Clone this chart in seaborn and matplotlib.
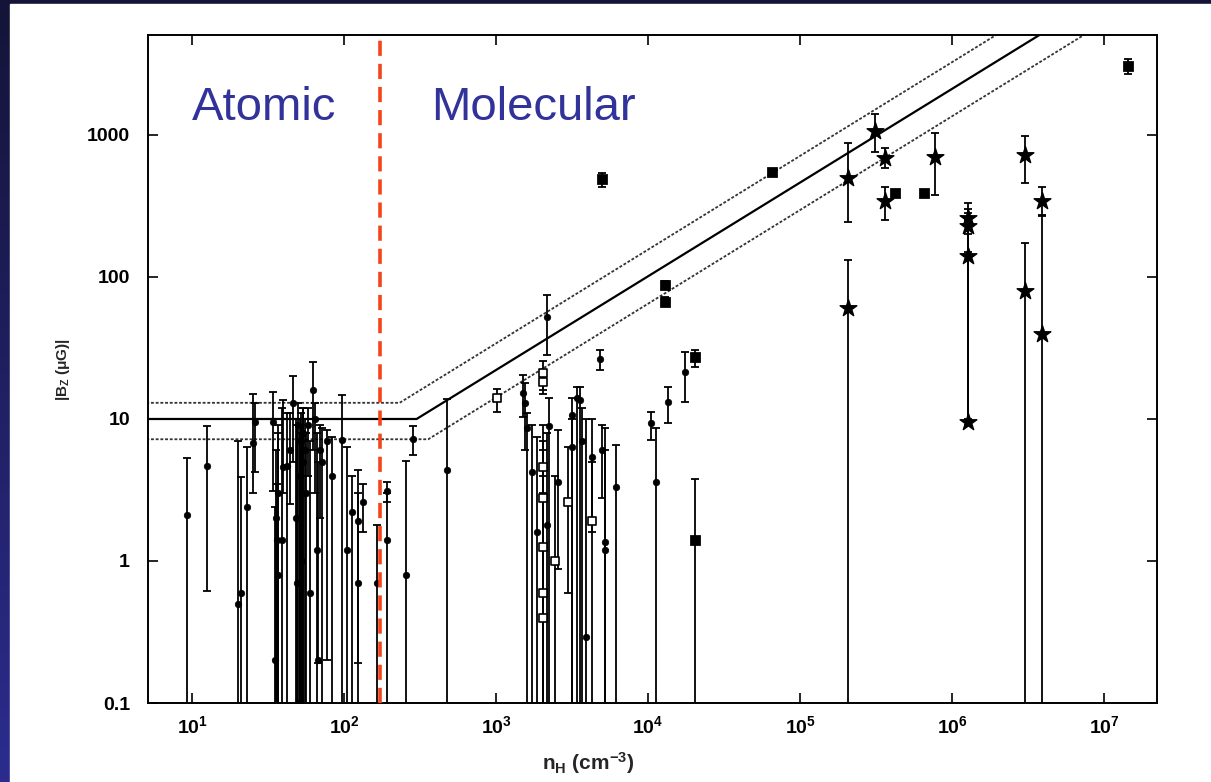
import numpy as np
import pandas as pd
import matplotlib
matplotlib.use("Agg")
import matplotlib.pyplot as plt
from matplotlib.patches import Rectangle
import seaborn as sns

# ---- data (n_H in cm^-3, |B_z| in microgauss) ----
# lo = 0.01 means the lower error bar runs off the bottom of the plot
atomic_n  = [9.3, 12.6, 20, 21, 23, 25.2, 25.9, 34, 35, 35.5, 36, 36.5, 37, 39, 39.7, 42, 44, 46, 48, 49,
             50, 51, 51.5, 52, 52.5, 53, 53.5, 54, 55, 56, 58, 59.7, 62.5, 64, 66, 67, 69, 72, 77, 83,
             97, 105, 113, 124, 124, 133, 165, 192, 192, 256, 284, 476]
atomic_B  = [2.1, 4.7, 0.5, 0.6, 2.4, 6.8, 9.5, 9.5, 0.2, 2.0, 1.4, 0.8, 3, 1.4, 4.6, 4.7, 6, 13, 2, 0.7,
             9, 0.1, 4, 7, 1, 3, 8, 5, 6, 3, 9, 0.6, 16, 10, 1.2, 0.2, 6, 5, 7, 4,
             7.1, 1.2, 2.2, 1.9, 0.7, 2.6, 0.7, 3.1, 1.4, 0.8, 7.2, 4.4]
atomic_lo = [0.01, 0.61, 0.01, 0.01, 0.01, 3.0, 4.2, 3.1, 0.01, 0.01, 0.01, 0.01, 0.01, 0.01, 3.0, 0.01, 2.5, 5, 0.01, 0.01,
             0.01, 0.01, 0.01, 0.01, 0.01, 0.01, 0.01, 0.01, 0.01, 0.01, 4, 0.01, 6, 3, 0.01, 0.19, 2, 0.01, 0.2, 0.01,
             0.01, 0.01, 0.01, 0.19, 0.01, 1.6, 0.01, 2.6, 0.01, 0.01, 5.6, 0.01]
atomic_hi = [5.3, 8.9, 7.0, 3.9, 6.3, 15, 13, 15.5, 2.4, 6, 3.5, 9, 8, 12, 13.5, 11, 11, 20, 10, 9,
             13, 8, 10, 11, 7, 9, 12, 12, 10, 8, 12, 7, 25, 13, 8, 5, 9, 8.6, 8.4, 7.5,
             14.7, 6.3, 4.0, 4.4, 3.0, 3.5, 1.8, 3.6, 3.0, 5.1, 8.9, 13.8]

oh_n  = [1507, 1550, 1600, 1726, 1862, 2166, 2166, 2234, 2559, 3162, 3162, 3413, 3573, 3700, 3910,
         4284, 4830, 4981, 5213, 5213, 6153, 10470, 11300, 13550, 17520]
oh_B  = [15.2, 13, 8.6, 4.2, 1.6, 1.8, 52, 8.9, 3.6, 10.7, 6.4, 14.1, 13.5, 7, 0.29,
         5.4, 26.4, 6.05, 1.36, 1.2, 3.3, 9.4, 3.6, 13.2, 21.4]
oh_lo = [10.3, 6, 0.01, 0.01, 0.01, 0.01, 28, 0.01, 0.88, 0.01, 0.01, 0.01, 0.01, 0.01, 0.01,
         1.6, 22, 2.8, 0.01, 0.01, 0.01, 7.1, 0.01, 9.4, 13.2]
oh_hi = [20.4, 18, 11, 9, 7.5, 8, 75, 14.1, 8.4, 14, 10, 16.8, 16.8, 12, 10,
         10, 30.6, 9.1, 8.6, 6, 6.6, 11.2, 8.6, 16.8, 29.8]

open_n  = [1016, 2038, 2038, 2038, 2038, 2038, 2038, 2038, 2445, 2978, 4284]
open_B  = [14, 21, 18.2, 4.6, 2.8, 1.26, 0.6, 0.4, 1.0, 2.6, 1.9]
open_lo = [11.2, 16, 15, 0.01, 0.01, 0.01, 0.01, 0.01, 0.01, 0.6, 0.01]
open_hi = [16.3, 25.5, 22, 9, 7, 6, 4, 3, 4, 6.4, 5]

sq_n  = [4981, 12940, 12940, 20370, 20370, 65460, 4.22e5, 6.55e5, 1.44e7]
sq_B  = [490, 88, 67, 27.3, 1.4, 550, 391, 391, 3060]
sq_lo = [431, 82, 62, 23.2, 0.01, 520, 375, 375, 2690]
sq_hi = [540, 94, 72, 30.6, 3.8, 580, 405, 405, 3430]

cn_n  = [2.07e5, 2.07e5, 3.11e5, 3.62e5, 3.62e5, 7.73e5, 1.27e6, 1.27e6, 1.27e6, 1.27e6,
         3.02e6, 3.02e6, 3.91e6, 3.91e6]
cn_B  = [500, 60, 1067, 690, 343, 700, 260, 230, 140, 9.5, 720, 80, 343, 40]
cn_lo = [245, 0.01, 759, 586, 252, 378, 200, 150, 10, 9, 459, 0.01, 273, 0.01]
cn_hi = [880, 132, 1406, 810, 431, 1033, 330, 300, 280, 250, 984, 173, 431, 270]

# model envelope vertices (flat, knee, end)
model_n = [5, 300, 2.2e7]
model_B = [10, 10, 16250]
upper_n = [5, 232, 2.2e7]
upper_B = [13, 13, 25060]
lower_n = [5, 358, 2.2e7]
lower_B = [7.2, 7.2, 10420]

boundary_n = 173
x_ticks = [1e1, 1e2, 1e3, 1e4, 1e5, 1e6, 1e7]
x_ticklabels = ["$10^{1}$", "$10^{2}$", "$10^{3}$", "$10^{4}$", "$10^{5}$", "$10^{6}$", "$10^{7}$"]
y_ticks = [0.1, 1, 10, 100, 1000]
y_ticklabels = ["0.1", "1", "10", "100", "1000"]

sns.set_style("ticks")
plt.rcParams['font.family'] = ['Liberation Sans', 'DejaVu Sans']
plt.rcParams['mathtext.fontset'] = 'custom'
plt.rcParams['mathtext.rm'] = 'Liberation Sans:bold'
plt.rcParams['mathtext.it'] = 'Liberation Sans:bold'
plt.rcParams['mathtext.bf'] = 'Liberation Sans:bold'
plt.rcParams['mathtext.default'] = 'regular'

fig = plt.figure(figsize=(12.11, 7.82), dpi=100)

# slide-style navy background with white panel
bg = fig.add_axes([0, 0, 1, 1], zorder=-10)
grad = np.linspace(0, 1, 256).reshape(-1, 1)
cmap = matplotlib.colors.LinearSegmentedColormap.from_list("navy", ["#141438", "#2c2c8e"])
bg.imshow(grad, aspect='auto', cmap=cmap, extent=[0, 1, 0, 1], origin='upper')
bg.add_patch(Rectangle((10 / 1211, 0), 1, 1 - 4 / 782, color='white'))
bg.set_xlim(0, 1)
bg.set_ylim(0, 1)
bg.axis('off')

ax = fig.add_axes([148 / 1211, 1 - 703 / 782, 1009 / 1211, 668 / 782])
ax.set_xscale('log')
ax.set_yscale('log')

ebkw = dict(fmt='none', ecolor='black', elinewidth=1.3, capsize=3.2, capthick=1.3, zorder=2)
groups = [
    (atomic_n, atomic_B, atomic_lo, atomic_hi),
    (oh_n, oh_B, oh_lo, oh_hi),
    (open_n, open_B, open_lo, open_hi),
    (sq_n, sq_B, sq_lo, sq_hi),
    (cn_n, cn_B, cn_lo, cn_hi),
]
for n, B, lo, hi in groups:
    B = np.array(B)
    ax.errorbar(n, B, yerr=[B - np.array(lo), np.array(hi) - B], **ebkw)

circ = pd.DataFrame({'n': atomic_n + oh_n, 'B': atomic_B + oh_B})
sns.scatterplot(data=circ, x='n', y='B', marker='o', s=22, color='black', edgecolor='black',
                linewidth=0.5, ax=ax, zorder=3)
sns.scatterplot(x=open_n, y=open_B, marker='s', s=26, facecolor='white', edgecolor='black',
                linewidth=1.2, ax=ax, zorder=3)
sns.scatterplot(x=sq_n, y=sq_B, marker='s', s=48, color='black', edgecolor='black', ax=ax, zorder=3)
sns.scatterplot(x=cn_n, y=cn_B, marker='*', s=160, color='black', edgecolor='black', ax=ax, zorder=3)

sns.lineplot(x=model_n, y=model_B, color='black', linewidth=1.6, ax=ax, zorder=1, sort=False)
ax.plot(upper_n, upper_B, color='#333333', linewidth=1.3, linestyle=(0, (1.6, 1.0)), zorder=1)
ax.plot(lower_n, lower_B, color='#333333', linewidth=1.3, linestyle=(0, (1.6, 1.0)), zorder=1)

ax.axvline(boundary_n, color='#f5441a', linewidth=2.6, linestyle=(0, (4.2, 2.2)), zorder=4)

ax.text(0.044, 0.891, "Atomic", transform=ax.transAxes, fontsize=34, color='#31329a', va='center')
ax.text(0.281, 0.891, "Molecular", transform=ax.transAxes, fontsize=34, color='#31329a', va='center')

ax.set_xlim(5.13, 2.23e7)
ax.set_ylim(0.1, 5060)
ax.set_xticks(x_ticks)
ax.set_xticklabels(x_ticklabels)
ax.set_yticks(y_ticks)
ax.set_yticklabels(y_ticklabels)
ax.minorticks_off()
ax.tick_params(which='major', direction='in', length=7, width=1.2, top=True, right=True,
               labelsize=14, colors='black')
for lab in ax.get_xticklabels() + ax.get_yticklabels():
    lab.set_fontweight('bold')
ax.tick_params(axis='y', pad=13)
ax.tick_params(axis='x', pad=9)
for s in ax.spines.values():
    s.set_linewidth(1.4)
    s.set_color('black')
    s.set_visible(True)

ax.set_xlabel("n$_H$ (cm$^{-3}$)", fontsize=15, fontweight='bold')
ax.xaxis.set_label_coords(0.436, -0.07)
ax.set_ylabel("|B$_Z$ ($\\mu$G)|", fontsize=11, fontweight='bold')
ax.yaxis.set_label_coords(-0.075, 0.5)

fig.savefig("out.png", dpi=100)
